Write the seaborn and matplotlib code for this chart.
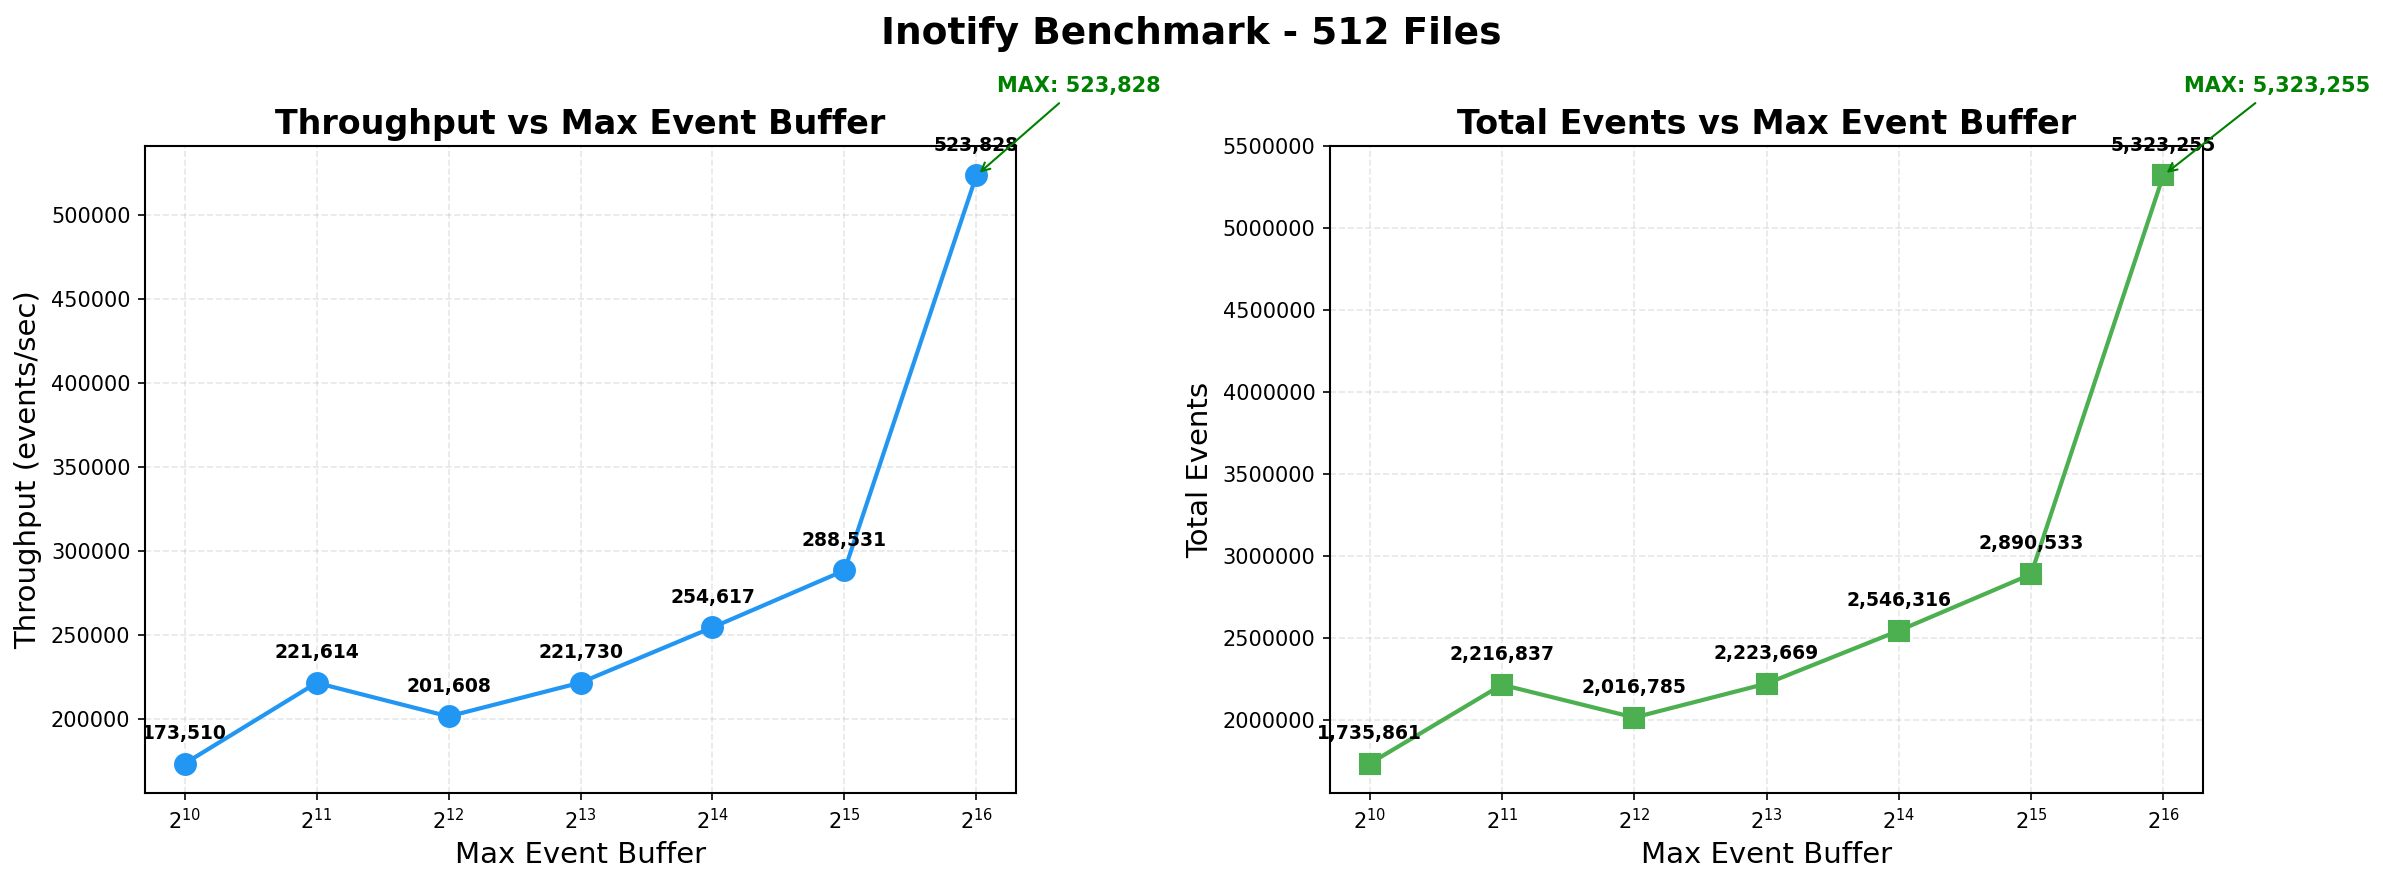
import matplotlib
matplotlib.use("Agg")
import matplotlib.pyplot as plt
import seaborn as sns
import pandas as pd

buffer_sizes = [1024, 2048, 4096, 8192, 16384, 32768, 65536]
throughput = [173510, 221614, 201608, 221730, 254617, 288531, 523828]
total_events = [1735861, 2216837, 2016785, 2223669, 2546316, 2890533, 5323255]

sns.set_style("ticks")
plt.rcParams['font.family'] = ['DejaVu Sans']
plt.rcParams.update({
    "text.color": "black",
    "axes.labelcolor": "black",
    "xtick.color": "black",
    "ytick.color": "black",
    "axes.edgecolor": "black",
})

fig = plt.figure(figsize=(2383/150, 884/150), dpi=150)
ax1 = fig.add_axes([145/2383, 1-793/884, (1016-145)/2383, (793-146)/884])
ax2 = fig.add_axes([1330/2383, 1-793/884, (2203-1330)/2383, (793-146)/884])

df = pd.DataFrame({"buf": buffer_sizes, "tp": throughput, "ev": total_events})

panels = [
    (ax1, "tp", "#2196F3", "o", "Throughput vs Max Event Buffer", "Throughput (events/sec)"),
    (ax2, "ev", "#4CAF50", "s", "Total Events vs Max Event Buffer", "Total Events"),
]

for ax, col, color, marker, title, ylabel in panels:
    sns.lineplot(data=df, x="buf", y=col, ax=ax, color=color, marker=marker,
                 markersize=10, linewidth=2, markeredgecolor=color, markeredgewidth=1)
    ax.set_xscale("log", base=2)
    ax.set_xticks(buffer_sizes)
    ax.ticklabel_format(style="plain", axis="y")
    ax.grid(True, linestyle="--", alpha=0.3, color="#b0b0b0", linewidth=0.8)
    for s in ax.spines.values():
        s.set_color("black")
        s.set_linewidth(1.0)
    ax.tick_params(colors="black", labelsize=10)
    ax.set_title(title, fontsize=16, fontweight="bold", color="black")
    ax.set_xlabel("Max Event Buffer", fontsize=14)
    ax.set_ylabel(ylabel, fontsize=14)
    vals = df[col].tolist()
    for x, y in zip(buffer_sizes, vals):
        ax.annotate(f"{y:,}", (x, y), textcoords="offset points", xytext=(0, 10),
                    ha="center", va="bottom", fontsize=9, fontweight="bold", color="black")
    imax = vals.index(max(vals))
    ax.annotate(f"MAX: {vals[imax]:,}", (buffer_sizes[imax], vals[imax]),
                textcoords="offset points", xytext=(10, 43), ha="left", va="center",
                fontsize=10, fontweight="bold", color="green",
                arrowprops=dict(arrowstyle="->", color="green", lw=1))

fig.suptitle("Inotify Benchmark - 512 Files", fontsize=18, fontweight="bold", y=0.962,
             va="center", color="black")
fig.savefig("out.png", dpi=150)
